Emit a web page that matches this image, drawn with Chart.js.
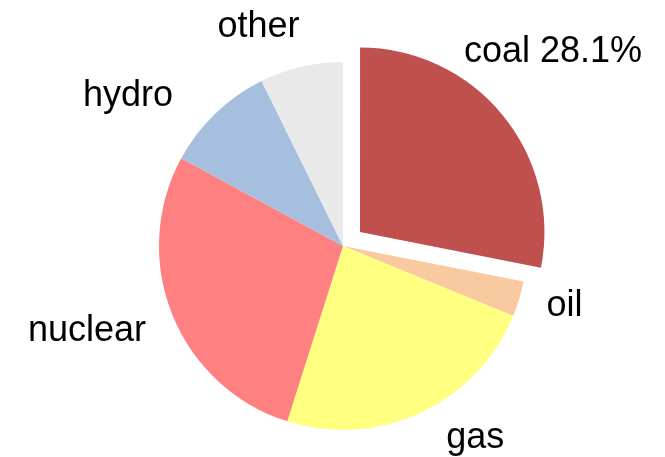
<!DOCTYPE html>
<html>
<head>
<meta charset="utf-8">
<script src="https://cdn.jsdelivr.net/npm/chart.js@4.4.1/dist/chart.umd.min.js"></script>
<style>
  html, body { margin: 0; padding: 0; background: #fff; }
  #wrap { width: 665px; height: 457px; position: relative; }
</style>
</head>
<body>
<div id="wrap"><canvas id="chart-pie"></canvas></div>
<script>
// electricity mix, share in %
const sources = ["coal", "oil", "gas", "nuclear", "hydro", "other"];
const shares = [28.1, 3.1, 23.7, 28.0, 9.8, 7.3];
const sliceColors = ["#c0504d", "#f9c9a0", "#ffff80", "#ff8080", "#a7bfde", "#e9e9e9"];

const explodeIndex = 0;   // coal is pulled out and shows its percentage

// outside labels, anchored on the slice bisector then nudged to fit
const pieLabels = {
    id: "pieLabels",
    afterDatasetsDraw(chart, args, opts) {
        const ctx = chart.ctx;
        const meta = chart.getDatasetMeta(0);
        const total = shares.reduce((a, b) => a + b, 0);
        ctx.save();
        ctx.font = opts.size + "px " + opts.family;
        ctx.fillStyle = opts.color;
        ctx.textBaseline = "alphabetic";
        meta.data.forEach((arc, i) => {
            const mid = (arc.startAngle + arc.endAngle) / 2;
            const shift = (arc.options.offset || 0) / 4;
            const d = shift + opts.distance * arc.outerRadius;
            const nudge = opts.nudge[i] || [0, 0];
            const x = arc.x + Math.cos(mid) * d + nudge[0];
            const y = arc.y + Math.sin(mid) * d + nudge[1];
            let text = sources[i];
            if (i === explodeIndex) text += " " + (shares[i] / total * 100).toFixed(1) + "%";
            ctx.textAlign = Math.cos(mid) >= 0 ? "left" : "right";
            ctx.fillText(text, x, y + opts.size * 0.27);
        });
        ctx.restore();
    },
};

new Chart(document.getElementById("chart-pie"), {
    type: "pie",
    data: {
        labels: sources,
        datasets: [
            {
                data: shares,
                backgroundColor: sliceColors,
                borderWidth: 0,
                offset: (c) => (c.dataIndex === explodeIndex ? 88 : 0),
                hoverOffset: 0,
            },
        ],
    },
    options: {
        responsive: true,
        maintainAspectRatio: false,
        animation: false,
        radius: 184,
        layout: { padding: { left: 21, right: 0, top: 35, bottom: 0 } },
        plugins: {
            legend: { display: false },
            tooltip: { enabled: false },
            pieLabels: {
                family: "'Liberation Sans', Arial, sans-serif",
                size: 36,
                color: "#000",
                distance: 1.16,
                nudge: [[-61, -44], [-1, -1], [13, -1], [1, 5], [-22, 4], [5, -11]],
            },
        },
    },
    plugins: [pieLabels],
});
</script>
</body>
</html>
